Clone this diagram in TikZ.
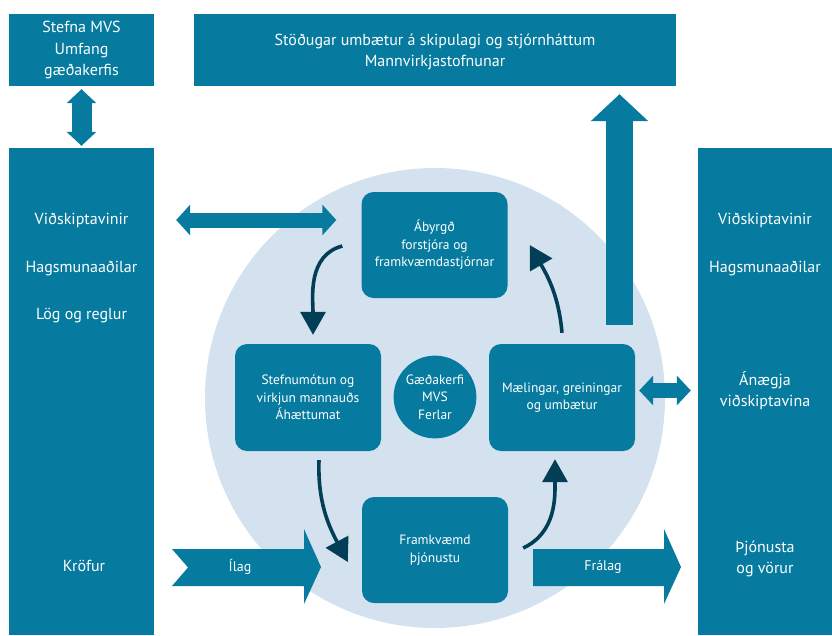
\documentclass[tikz,border=0pt]{standalone}
\usepackage{fontspec}
\setmainfont{PT Sans}
\usetikzlibrary{arrows.meta}
\definecolor{mvsteal}{HTML}{067B9F}
\definecolor{ringblue}{HTML}{D3E2EE}
\definecolor{cycledark}{HTML}{023F56}
\tikzset{
  outbox/.style={fill=mvsteal, inner sep=0pt},
  outtext/.style={text=white, align=center, font=\fontsize{16}{21.5}\selectfont},
  stepbox/.style={fill=mvsteal, rounded corners=12pt, minimum width=146pt, minimum height=106pt,
    text=white, align=center, font=\fontsize{13.5}{17.5}\selectfont},
  blockarrow/.style={draw=mvsteal, line width=#1},
  cyclearrow/.style={draw=cycledark, line width=3.6pt, -{Triangle[width=25pt,length=23pt]}},
}
\begin{document}
\begin{tikzpicture}[x=1pt, y=1pt]
\useasboundingbox (0,0) rectangle (832,-635);
\node[outbox, minimum width=145pt, minimum height=72pt] (mvs) at (81.5,-50) {};
\node[outtext] (mvs-t) at (81.5,-50) {Stefna MVS\\Umfang\\gæðakerfis};
\node[outbox, minimum width=482pt, minimum height=72pt] (stodugar) at (435,-50) {};
\node[outtext] (stodugar-t) at (435,-52) {Stöðugar umbætur á skipulagi og stjórnháttum\\Mannvirkjastofnunar};
\node[outbox, minimum width=145pt, minimum height=487pt] (left) at (81.5,-391.5) {};
\node[outbox, minimum width=134pt, minimum height=487pt] (right) at (765,-391.5) {};
\node[outtext] (l-vid) at (81.5,-220) {Viðskiptavinir};
\node[outtext] (l-hag) at (81.5,-268) {Hagsmunaaðilar};
\node[outtext] (l-log) at (81.5,-316) {Lög og reglur};
\node[outtext] (l-krof) at (84,-566) {Kröfur};
\node[outtext] (r-vid) at (765,-220) {Viðskiptavinir};
\node[outtext] (r-hag) at (765,-268) {Hagsmunaaðilar};
\node[outtext] (r-anaegja) at (765,-390.5) {Ánægja\\viðskiptavina};
\node[outtext] (r-thjon) at (765,-559) {Þjónusta\\og vörur};
% hringurinn
\node[circle, fill=ringblue, minimum size=460pt] (ring) at (435,-398) {};
\node[stepbox] (aby) at (434.5,-245) {Ábyrgð\\forstjóra og\\framkvæmdastjórnar};
\node[stepbox, minimum height=107pt] (stef) at (308,-397.5) {Stefnumótun og\\virkjun mannauðs\\Áhættumat};
\node[stepbox, minimum height=107pt] (mael) at (562,-397.5) {Mælingar, greiningar\\og umbætur};
\node[stepbox] (framk) at (435,-550) {Framkvæmd\\þjónustu};
\node[circle, fill=mvsteal, minimum size=78pt, text=white, align=center,
  font=\fontsize{13.5}{17.5}\selectfont] (core) at (435,-397) {Gæðakerfi\\MVS\\Ferlar};
% breiðar örvar
\draw[blockarrow=20pt, {Triangle[width=29pt,length=14pt]}-{Triangle[width=29pt,length=14pt]},
  shorten <=3pt, shorten >=2pt] (mvs.south) -- (left.north);
\draw[blockarrow=15pt, {Triangle[width=30pt,length=14pt]}-{Triangle[width=30pt,length=14pt]},
  shorten <=22pt, shorten >=25pt] (l-vid -| left.east) -- (l-vid -| aby.west);
\draw[blockarrow=15pt, {Triangle[width=29pt,length=14pt]}-{Triangle[width=29pt,length=14pt]},
  shorten <=4pt, shorten >=7pt] (r-anaegja -| mael.east) -- (r-anaegja -| right.west);
\coordinate (up-start) at (619.5,-325);
\draw[blockarrow=27pt, -{Triangle[width=56pt,length=27pt]}, shorten >=8pt]
  (up-start) -- (up-start |- stodugar.south);
\fill[mvsteal] (172,-549) -- (304,-549) -- (304,-529) -- (321,-567) -- (304,-604)
  -- (304,-586) -- (172,-586) -- (188,-567.5) -- cycle;
\node[outtext, font=\fontsize{14}{17}\selectfont] (ilag) at (240,-567) {Ílag};
\fill[mvsteal] (533,-549) -- (664,-549) -- (664,-529) -- (681,-567) -- (664,-604)
  -- (664,-586) -- (533,-586) -- cycle;
\node[outtext, font=\fontsize{14}{17}\selectfont] (fralag) at (603,-567) {Frálag};
% hringrásin
\draw[cyclearrow] ([xshift=-19pt,yshift=-1pt]aby.west) to[out=195, in=90] ([xshift=5pt,yshift=9pt]stef.north);
\draw[cyclearrow] ([xshift=11pt,yshift=-9pt]stef.south) to[out=-92, in=118] ([xshift=-14pt,yshift=-12pt]framk.west);
\draw[cyclearrow] ([xshift=15pt,yshift=2pt]framk.east) to[out=25, in=-90] ([xshift=-7pt,yshift=-8pt]mael.south);
\draw[cyclearrow] ([xshift=0pt,yshift=11pt]mael.north) to[out=95, in=-60] ([xshift=22pt]aby.east);
\end{tikzpicture}
\end{document}
